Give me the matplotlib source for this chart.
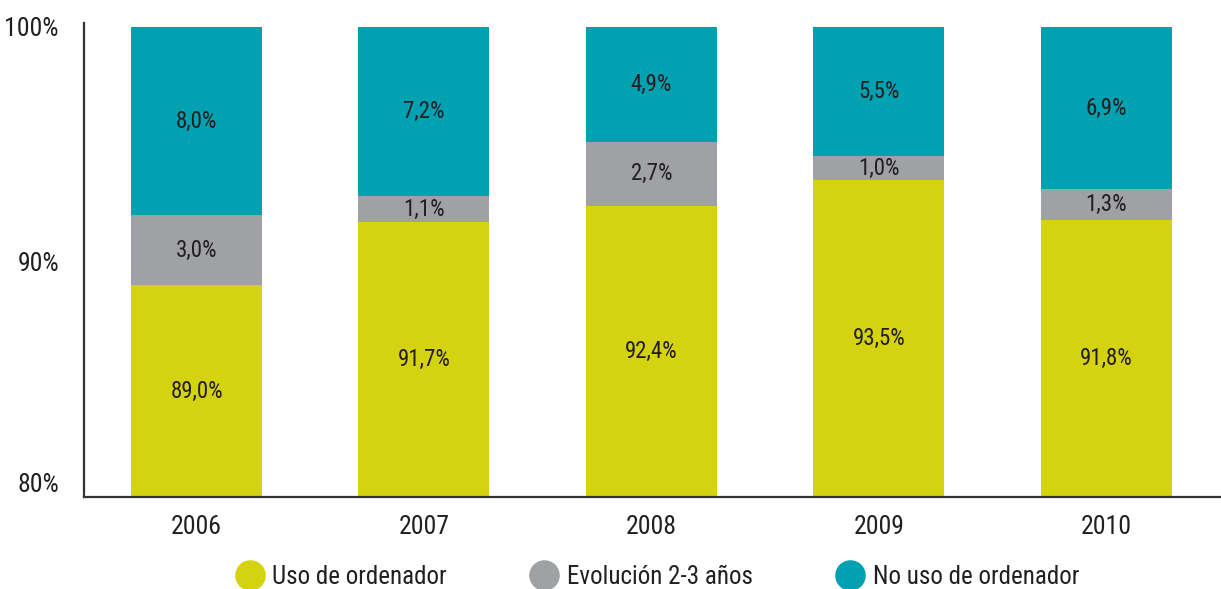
import matplotlib.pyplot as plt
from matplotlib.lines import Line2D
import numpy as np

plt.rcParams['font.family'] = ['Roboto Condensed', 'Archivo Narrow', 'DejaVu Sans']

years = ["2006", "2007", "2008", "2009", "2010"]
uso = [89.0, 91.7, 92.4, 93.5, 91.8]
evolucion = [3.0, 1.1, 2.7, 1.0, 1.3]
no_uso = [8.0, 7.2, 4.9, 5.5, 6.9]

series_names = ["Uso de ordenador", "Evolución 2-3 años", "No uso de ordenador"]
colors = ["#d5d20f", "#a0a1a4", "#00a1b1"]
txt = "#231f20"


def fmt(v):
    return "{0:.1f}%".format(v).replace(".", ",")


fig = plt.figure(figsize=(12.21, 5.89), dpi=100)
ax = fig.add_axes([84 / 1221, 1 - 497 / 589, 1 - 84 / 1221, (497 - 23) / 589])

x = np.arange(len(years))
w = 0.576
bottom = np.zeros(len(years))
for vals, c in zip([uso, evolucion, no_uso], colors):
    vals = np.array(vals)
    ax.bar(x, vals, w, bottom=bottom, color=c, linewidth=0)
    for xi, b, v in zip(x, bottom, vals):
        lo = max(b, 80)
        ax.text(xi, (lo + b + v) / 2, fmt(v), ha="center", va="center",
                fontsize=16.5, color=txt)
    bottom = bottom + vals

ax.set_xlim(-0.495, 4.505)
ax.set_ylim(80, 100 + 4 / 23.5)
ax.set_yticks([80, 90, 100])
ax.set_yticklabels(["80%", "90%", "100%"])
ax.set_xticks(x)
ax.set_xticklabels(years)
ax.tick_params(length=0, labelsize=18.5, labelcolor=txt)
ax.tick_params(axis="x", pad=13)
ax.tick_params(axis="y", pad=18)
ax.get_yticklabels()[0].set_va("bottom")
for s in ["top", "right"]:
    ax.spines[s].set_visible(False)
for s in ["left", "bottom"]:
    ax.spines[s].set_color("#333333")
    ax.spines[s].set_linewidth(1.6)

handles = [Line2D([], [], marker="o", linestyle="", markersize=22,
                  markerfacecolor=c, markeredgewidth=0) for c in colors]
fig.legend(handles, series_names, loc="center", ncol=3,
           bbox_to_anchor=(0.538, 1 - 577 / 589), frameon=False,
           fontsize=18, labelcolor=txt, handletextpad=0.3,
           columnspacing=3.3, handlelength=1.2)

plt.savefig("out.png", dpi=100)
